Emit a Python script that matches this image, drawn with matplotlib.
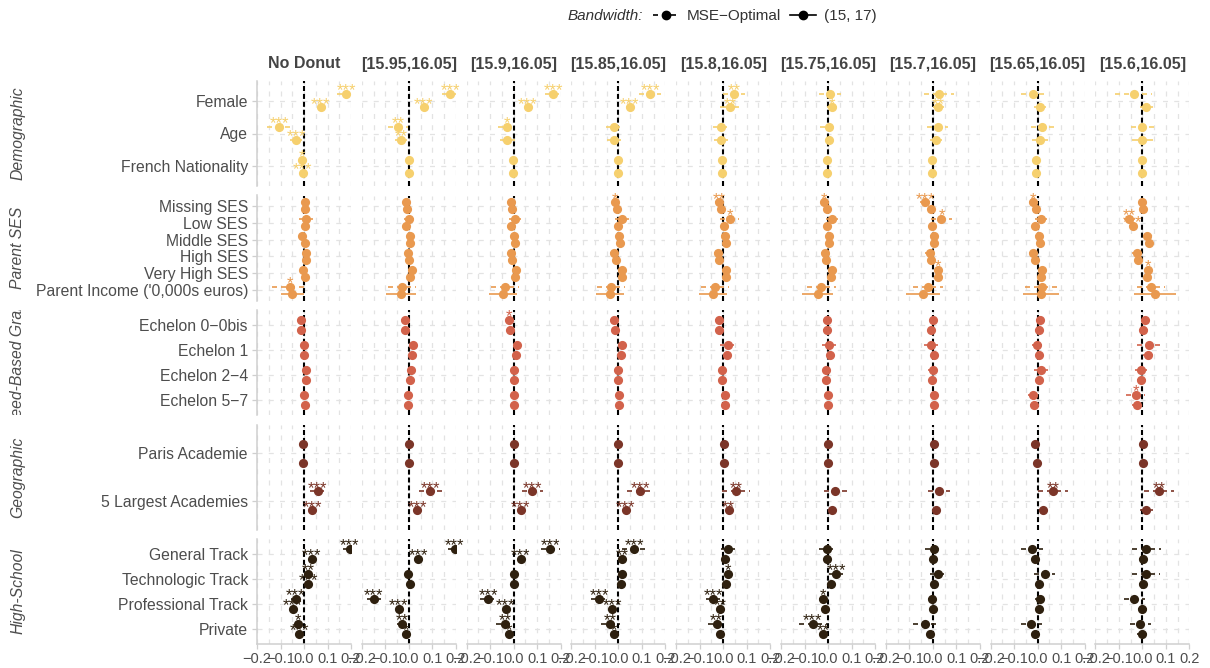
import matplotlib.pyplot as plt
import numpy as np
from matplotlib.lines import Line2D
from matplotlib.ticker import FuncFormatter

plt.rcParams["font.family"] = ["Liberation Sans", "DejaVu Sans"]

windows = ["No Donut", "[15.95,16.05]", "[15.9,16.05]", "[15.85,16.05]", "[15.8,16.05]",
           "[15.75,16.05]", "[15.7,16.05]", "[15.65,16.05]", "[15.6,16.05]"]

groups = ["Demographic", "Parent SES", "Need-Based Grant", "Geographic", "High-School"]
group_colors = ["#F6D06E", "#E9994F", "#D2624B", "#7B3528", "#2E200F"]

# ---- Demographic ----
demo_vars = ["Female", "Age", "French Nationality"]
demo_mse = [[0.180, 0.177, 0.169, 0.135, 0.047, 0.007, 0.027, -0.019, -0.037],
            [-0.105, -0.047, -0.028, -0.018, -0.008, 0.003, 0.021, 0.020, 0.000],
            [-0.007, 0.000, -0.004, 0.000, -0.004, -0.004, -0.003, -0.006, 0.000]]
demo_mse_ci = [[0.040, 0.035, 0.035, 0.047, 0.047, 0.047, 0.064, 0.050, 0.078],
               [0.051, 0.043, 0.040, 0.035, 0.037, 0.036, 0.045, 0.048, 0.050],
               [0.008, 0.008, 0.008, 0.008, 0.008, 0.008, 0.008, 0.008, 0.008]]
demo_bw = [[0.072, 0.064, 0.060, 0.048, 0.028, 0.017, 0.024, 0.010, 0.016],
           [-0.034, -0.034, -0.026, -0.018, -0.008, 0.003, 0.015, 0.011, 0.000],
           [-0.005, 0.000, -0.004, 0.000, -0.004, -0.004, -0.003, -0.006, 0.000]]
demo_bw_ci = [[0.012, 0.012, 0.012, 0.015, 0.040, 0.023, 0.023, 0.027, 0.028],
              [0.025, 0.025, 0.030, 0.030, 0.030, 0.016, 0.026, 0.034, 0.043],
              [0.006, 0.006, 0.006, 0.006, 0.006, 0.006, 0.006, 0.006, 0.006]]
demo_mse_stars = [["***", "***", "***", "***", "**", "", "", "", ""],
                  ["***", "**", "*", "", "", "", "", "", ""],
                  ["*", "", "", "", "", "", "", "", ""]]
demo_bw_stars = [["***", "***", "***", "***", "**", "*", "**", "", ""],
                 ["***", "**", "", "", "", "", "", "", ""],
                 ["***", "", "", "", "", "", "", "", ""]]

# ---- Parent SES ----
ses_vars = ["Missing SES", "Low SES", "Middle SES", "High SES", "Very High SES",
            "Parent Income ('0,000s euros)"]
ses_mse = [[0.004, -0.010, -0.011, -0.014, -0.018, -0.016, -0.033, -0.020, 0.000],
           [0.007, 0.000, 0.007, 0.014, 0.027, 0.017, 0.037, 0.013, -0.055],
           [-0.008, 0.003, 0.001, 0.003, 0.006, 0.003, 0.003, 0.006, 0.020],
           [0.007, -0.004, -0.010, -0.017, -0.021, -0.014, -0.013, -0.018, -0.023],
           [-0.003, 0.013, 0.010, 0.014, 0.013, 0.017, 0.021, 0.017, 0.024],
           [-0.060, -0.030, -0.035, -0.030, -0.035, -0.028, -0.020, 0.020, 0.035]]
ses_mse_ci = [[0.010, 0.010, 0.010, 0.012, 0.015, 0.012, 0.020, 0.015, 0.012],
              [0.030, 0.020, 0.025, 0.030, 0.040, 0.025, 0.045, 0.025, 0.025],
              [0.015, 0.012, 0.012, 0.012, 0.015, 0.012, 0.015, 0.015, 0.015],
              [0.012, 0.012, 0.015, 0.020, 0.020, 0.015, 0.020, 0.020, 0.020],
              [0.015, 0.012, 0.015, 0.015, 0.012, 0.012, 0.015, 0.015, 0.015],
              [0.078, 0.060, 0.060, 0.060, 0.060, 0.060, 0.064, 0.073, 0.060]]
ses_bw = [[0.004, -0.008, -0.007, -0.008, -0.011, -0.004, -0.007, -0.006, 0.003],
          [0.004, -0.012, -0.009, 0.000, 0.003, -0.004, -0.003, -0.009, -0.041],
          [0.004, 0.006, 0.007, 0.006, 0.010, 0.006, 0.003, 0.010, 0.030],
          [0.007, 0.000, -0.007, -0.011, -0.016, -0.009, -0.009, -0.013, -0.018],
          [0.004, 0.007, 0.007, 0.014, 0.010, 0.011, 0.021, 0.016, 0.020],
          [-0.050, -0.035, -0.044, -0.037, -0.044, -0.043, -0.041, 0.016, 0.052]]
ses_bw_ci = [[0.008, 0.008, 0.008, 0.008, 0.008, 0.008, 0.008, 0.008, 0.010],
             [0.010, 0.010, 0.010, 0.010, 0.010, 0.010, 0.010, 0.010, 0.015],
             [0.010, 0.010, 0.010, 0.010, 0.010, 0.010, 0.010, 0.010, 0.015],
             [0.010, 0.010, 0.010, 0.010, 0.010, 0.010, 0.010, 0.010, 0.012],
             [0.010, 0.010, 0.010, 0.010, 0.010, 0.010, 0.010, 0.010, 0.012],
             [0.050, 0.064, 0.060, 0.060, 0.060, 0.066, 0.071, 0.077, 0.089]]
ses_mse_stars = [["", "", "", "*", "**", "*", "***", "*", ""],
                 ["", "", "", "", "*", "", "*", "", "**"],
                 ["", "", "", "", "", "", "", "", ""],
                 ["", "", "", "", "", "", "", "", ""],
                 ["", "", "", "", "", "", "*", "", "*"],
                 ["*", "", "", "", "", "", "", "", ""]]
ses_bw_stars = [["", "", "", "", "", "", "", "", ""],
                ["", "", "", "", "", "", "", "", "***"],
                ["", "", "", "", "", "", "", "", "*"],
                ["", "", "", "", "", "", "", "", ""],
                ["", "", "", "", "", "", "", "", ""],
                ["", "", "", "", "", "", "", "", ""]]

# ---- Need-Based Grant ----
grant_vars = ["Echelon 0\u22120bis", "Echelon 1", "Echelon 2\u22124", "Echelon 5\u22127"]
grant_mse = [[-0.013, -0.018, -0.018, -0.017, -0.018, -0.003, 0.000, 0.009, 0.009],
             [0.001, 0.016, 0.013, 0.016, 0.021, 0.006, -0.006, -0.003, 0.028],
             [0.010, 0.009, 0.000, -0.003, -0.003, -0.007, -0.001, 0.013, -0.006],
             [0.000, -0.004, 0.000, 0.001, 0.006, 0.001, 0.003, -0.020, -0.028]]
grant_mse_ci = [[0.012, 0.015, 0.015, 0.015, 0.015, 0.015, 0.015, 0.015, 0.015],
                [0.010, 0.012, 0.012, 0.012, 0.036, 0.030, 0.030, 0.020, 0.052],
                [0.012, 0.012, 0.012, 0.012, 0.012, 0.015, 0.020, 0.030, 0.027],
                [0.012, 0.012, 0.012, 0.012, 0.015, 0.015, 0.015, 0.020, 0.040]]
grant_bw = [[-0.013, -0.016, -0.017, -0.014, -0.018, -0.006, -0.006, 0.006, 0.004],
            [0.001, 0.014, 0.011, 0.013, 0.016, 0.009, 0.003, 0.004, 0.024],
            [0.010, 0.004, 0.000, -0.003, -0.004, -0.007, -0.004, 0.007, -0.004],
            [0.003, -0.003, 0.000, 0.003, 0.007, 0.001, 0.004, -0.017, -0.024]]
grant_bw_ci = [[0.010, 0.010, 0.010, 0.010, 0.010, 0.015, 0.015, 0.015, 0.020],
               [0.010, 0.010, 0.010, 0.010, 0.010, 0.010, 0.012, 0.012, 0.020],
               [0.010, 0.010, 0.010, 0.010, 0.010, 0.012, 0.012, 0.015, 0.020],
               [0.010, 0.010, 0.010, 0.010, 0.012, 0.012, 0.012, 0.015, 0.020]]
grant_mse_stars = [["", "", "*", "", "", "", "", "", ""],
                   ["", "", "", "", "", "", "", "", ""],
                   ["", "", "", "", "", "", "", "", ""],
                   ["", "", "", "", "", "", "", "", "*"]]
grant_bw_stars = [["", "", "", "", "", "", "", "", ""],
                  ["", "", "", "", "", "", "", "", ""],
                  ["", "", "", "", "", "", "", "", ""],
                  ["", "", "", "", "", "", "", "", ""]]

# ---- Geographic ----
geo_vars = ["Paris Academie", "5 Largest Academies"]
geo_mse = [[-0.006, 0.000, 0.000, 0.000, 0.003, 0.000, 0.003, -0.009, 0.002],
           [0.058, 0.092, 0.079, 0.092, 0.054, 0.031, 0.027, 0.065, 0.070]]
geo_mse_ci = [[0.006, 0.006, 0.006, 0.006, 0.006, 0.006, 0.006, 0.008, 0.012],
              [0.033, 0.050, 0.045, 0.055, 0.060, 0.050, 0.048, 0.064, 0.064]]
geo_bw = [[-0.006, 0.000, 0.000, 0.000, 0.003, 0.000, 0.003, -0.004, 0.003],
          [0.034, 0.035, 0.030, 0.031, 0.023, 0.017, 0.014, 0.023, 0.017]]
geo_bw_ci = [[0.005, 0.005, 0.005, 0.005, 0.005, 0.005, 0.005, 0.006, 0.008],
             [0.012, 0.012, 0.012, 0.012, 0.012, 0.012, 0.015, 0.015, 0.027]]
geo_mse_stars = [["", "", "", "", "", "", "", "", ""],
                 ["***", "***", "***", "***", "**", "", "", "**", "**"]]
geo_bw_stars = [["", "", "", "", "", "", "", "", ""],
                ["***", "***", "***", "***", "**", "", "", "", ""]]

# ---- High-School ----
hs_vars = ["General Track", "Technologic Track", "Professional Track", "Private"]
hs_mse = [[0.195, 0.196, 0.157, 0.067, 0.021, -0.004, 0.003, -0.023, 0.016],
          [0.018, -0.003, 0.000, 0.016, 0.021, 0.034, 0.021, 0.030, 0.017],
          [-0.035, -0.150, -0.109, -0.082, -0.043, -0.020, -0.004, 0.009, -0.034],
          [-0.024, -0.030, -0.037, -0.035, -0.028, -0.065, -0.034, -0.027, -0.009]]
hs_mse_ci = [[0.030, 0.030, 0.040, 0.050, 0.030, 0.035, 0.035, 0.046, 0.062],
             [0.020, 0.015, 0.012, 0.012, 0.015, 0.030, 0.035, 0.045, 0.060],
             [0.020, 0.030, 0.035, 0.035, 0.030, 0.020, 0.015, 0.020, 0.045],
             [0.015, 0.020, 0.040, 0.040, 0.035, 0.060, 0.050, 0.045, 0.045]]
hs_bw = [[0.033, 0.041, 0.030, 0.016, 0.009, -0.004, 0.000, -0.010, 0.001],
         [0.017, 0.003, 0.000, 0.013, 0.011, 0.013, 0.004, 0.006, 0.001],
         [-0.048, -0.043, -0.034, -0.026, -0.013, -0.011, -0.001, 0.007, 0.000],
         [-0.020, -0.014, -0.020, -0.017, -0.014, -0.021, -0.014, -0.010, -0.001]]
hs_bw_ci = [[0.010, 0.010, 0.010, 0.010, 0.010, 0.010, 0.012, 0.012, 0.015],
            [0.010, 0.010, 0.010, 0.010, 0.010, 0.010, 0.012, 0.012, 0.015],
            [0.010, 0.010, 0.010, 0.010, 0.010, 0.010, 0.012, 0.012, 0.020],
            [0.010, 0.010, 0.010, 0.010, 0.010, 0.012, 0.012, 0.012, 0.020]]
hs_mse_stars = [["***", "***", "***", "***", "", "", "", "", ""],
                ["**", "", "", "", "*", "***", "", "", ""],
                ["***", "***", "***", "***", "***", "*", "", "", ""],
                ["*", "**", "**", "**", "**", "***", "", "", ""]]
hs_bw_stars = [["***", "***", "***", "**", "", "", "", "", ""],
               ["***", "", "", "", "", "", "", "", ""],
               ["***", "***", "***", "***", "**", "", "", "", ""],
               ["***", "*", "*", "*", "", "**", "", "", ""]]

panels = [
    (demo_vars, demo_mse, demo_mse_ci, demo_bw, demo_bw_ci, demo_mse_stars, demo_bw_stars),
    (ses_vars, ses_mse, ses_mse_ci, ses_bw, ses_bw_ci, ses_mse_stars, ses_bw_stars),
    (grant_vars, grant_mse, grant_mse_ci, grant_bw, grant_bw_ci, grant_mse_stars, grant_bw_stars),
    (geo_vars, geo_mse, geo_mse_ci, geo_bw, geo_bw_ci, geo_mse_stars, geo_bw_stars),
    (hs_vars, hs_mse, hs_mse_ci, hs_bw, hs_bw_ci, hs_mse_stars, hs_bw_stars),
]

# layout in pixels
W, H = 1210, 668
col_x0, col_step, col_w = 257, 104.8, 94
row_y0, row_step, row_h = 81, 114.5, 105
grid_col = "#E3E3E3"
axis_col = "#CFCFCF"
text_col = "#4D4D4D"


def box(x, y, w, h):
    return [x / W, 1 - (y + h) / H, w / W, h / H]


def fmt(v, pos):
    s = f"{v:.1f}"
    if s == "-0.0":
        s = "0.0"
    return s.replace("-", "\u2212")


fig = plt.figure(figsize=(W / 100, H / 100), dpi=100)

for r, (names, mse, mse_ci, bw, bw_ci, mse_st, bw_st) in enumerate(panels):
    color = group_colors[r]
    n = len(names)
    ypos = np.arange(n)
    top = row_y0 + r * row_step
    mse, mse_ci = np.array(mse), np.array(mse_ci)
    bw, bw_ci = np.array(bw), np.array(bw_ci)

    for c in range(len(windows)):
        ax = fig.add_axes(box(col_x0 + c * col_step, top, col_w, row_h))
        ax.set_xlim(-0.2, 0.2)
        ax.set_ylim(n - 0.4, -0.6)
        ax.set_xticks([-0.2, -0.1, 0.0, 0.1, 0.2])
        ax.set_xticks([-0.15, -0.05, 0.05, 0.15], minor=True)
        ax.set_yticks(ypos)
        ax.xaxis.set_major_formatter(FuncFormatter(fmt))
        ax.grid(which="both", axis="x", color=grid_col, lw=0.9, ls=(0, (4, 5)))
        ax.grid(which="major", axis="y", color=grid_col, lw=0.9, ls=(0, (4, 5)))
        ax.set_axisbelow(True)
        ax.axvline(0, color="black", lw=1.5, ls=(0, (2.4, 1.4)), zorder=2)

        # MSE-optimal above, (15, 17) below
        for est, ci, st, dy, ls in [(mse, mse_ci, mse_st, -0.2, (0, (3, 2.4))),
                                    (bw, bw_ci, bw_st, 0.2, "-")]:
            yy = ypos + dy
            ax.hlines(yy, est[:, c] - ci[:, c], est[:, c] + ci[:, c],
                      colors=color, lw=1.2, linestyles=[ls], zorder=3)
            ax.plot(est[:, c], yy, "o", ms=6.6, color=color, mec="none", zorder=4)
            for i in range(n):
                if st[i][c]:
                    t = ax.annotate(st[i][c], (est[i, c], yy[i]), xytext=(0, -1),
                                    textcoords="offset points", ha="center",
                                    va="baseline", fontsize=12, color=color,
                                    zorder=5, annotation_clip=False)
                    t.set_clip_on(True)

        for s in ax.spines.values():
            s.set_visible(False)
        ax.tick_params(which="minor", length=0)
        ax.tick_params(axis="both", colors=axis_col, labelcolor=text_col, length=3.5, width=0.9)
        if c == 0:
            ax.spines["left"].set_visible(True)
            ax.spines["left"].set_color(axis_col)
            ax.spines["left"].set_linewidth(1.1)
            ax.set_yticklabels(names, fontsize=11.3)
            ax.tick_params(axis="y", pad=3)
        else:
            ax.tick_params(axis="y", length=0, labelleft=False)
        if r == len(panels) - 1:
            ax.spines["bottom"].set_visible(True)
            ax.spines["bottom"].set_color(axis_col)
            ax.spines["bottom"].set_linewidth(1.1)
            ax.tick_params(axis="x", labelsize=10.5, pad=2)
        else:
            ax.tick_params(axis="x", length=0, labelbottom=False)

    # row strip on the left, clipped to the panel height
    sax = fig.add_axes(box(6, top, 24, row_h))
    sax.axis("off")
    sax.text(0.5, 0.5, groups[r], rotation=90, ha="center", va="center",
             style="italic", fontsize=11.3, color=text_col, clip_on=True,
             transform=sax.transAxes)

for c, title in enumerate(windows):
    cx = col_x0 + c * col_step + col_w / 2
    fig.text(cx / W, 1 - 64 / H, title, ha="center", va="center",
             fontsize=11.5, fontweight="bold", color="#444444")

# legend
fig.text(643 / W, 1 - 16 / H, "Bandwidth:", ha="right", va="center",
         style="italic", fontsize=11, color="#333333")
handles = [Line2D([], [], color="black", lw=1.2, ls=(0, (3, 2.4)), marker="o", ms=6),
           Line2D([], [], color="black", lw=1.2, ls="-", marker="o", ms=6)]
fig.legend(handles, ["MSE\u2212Optimal", "(15, 17)"], loc="center left",
           bbox_to_anchor=(653 / W, 1 - 16 / H), ncol=2, frameon=False,
           fontsize=11, handlelength=1.7, handletextpad=0.5, columnspacing=0.6,
           borderpad=0, borderaxespad=0, labelcolor="#333333")

fig.savefig("out.png", dpi=100)
